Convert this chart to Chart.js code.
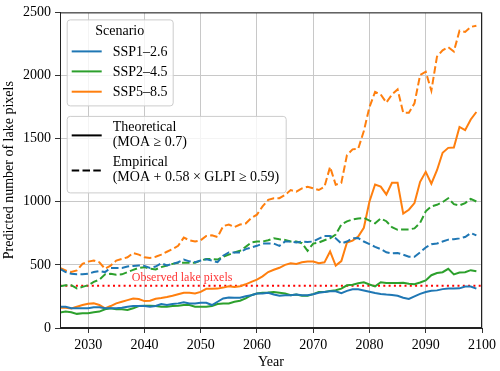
<!DOCTYPE html>
<html>
<head>
<meta charset="utf-8">
<script src="https://cdn.jsdelivr.net/npm/chart.js@4"></script>
<style>
html,body{margin:0;padding:0;background:#fff;}
#c{display:block;}
</style>
</head>
<body>
<canvas id="c" width="500" height="371"></canvas>
<script>
const years = [2025,2026,2027,2028,2029,2030,2031,2032,2033,2034,2035,2036,2037,2038,2039,2040,2041,2042,2043,2044,2045,2046,2047,2048,2049,2050,2051,2052,2053,2054,2055,2056,2057,2058,2059,2060,2061,2062,2063,2064,2065,2066,2067,2068,2069,2070,2071,2072,2073,2074,2075,2076,2077,2078,2079,2080,2081,2082,2083,2084,2085,2086,2087,2088,2089,2090,2091,2092,2093,2094,2095,2096,2097,2098,2099];

const ssp126Theoretical = [169,169,156,156,156,156,164,164,156,156,156,161,169,174,174,174,169,174,190,182,190,195,203,195,195,200,200,182,208,234,242,240,240,252,260,273,273,279,265,255,260,260,265,260,260,268,279,286,291,291,276,294,306,306,297,287,277,270,265,262,255,240,230,250,270,285,295,298,308,312,312,314,328,329,312];
const ssp245Theoretical = [122,130,125,112,117,117,125,130,148,156,148,148,143,156,174,177,177,174,169,169,174,177,182,182,169,169,169,174,190,195,195,208,216,234,260,273,279,281,286,279,273,260,265,255,255,268,286,286,294,299,312,338,343,355,362,345,330,362,356,356,357,358,350,346,360,377,418,436,442,469,425,440,442,458,450];
const ssp585Theoretical = [161,161,155,168,182,192,195,182,155,174,195,208,221,234,229,213,216,232,237,245,255,268,279,279,273,286,310,310,312,320,331,325,331,346,365,383,409,443,461,477,500,513,508,520,526,526,513,520,606,494,530,677,692,725,794,1002,1137,1120,1058,1150,1150,906,937,990,1158,1237,1143,1250,1388,1427,1430,1593,1567,1652,1711];

const ssp126Empirical = [469,443,430,425,425,430,443,451,443,476,476,476,487,492,495,492,476,487,513,495,508,521,542,528,521,534,544,534,521,573,599,599,599,625,638,651,669,669,669,651,685,685,677,685,682,685,708,729,729,711,669,685,710,712,685,664,643,625,600,591,594,581,565,565,599,638,664,669,685,700,703,710,721,752,734];
const ssp245Empirical = [330,339,339,313,326,339,365,383,425,430,422,425,443,460,476,482,469,464,482,495,508,516,516,516,516,534,547,547,542,565,581,599,612,643,677,685,685,695,711,703,698,685,685,672,612,669,677,695,711,740,820,845,860,868,872,851,830,867,846,799,778,781,781,789,833,924,963,976,997,1028,981,971,989,1023,1002];
const ssp585Empirical = [476,456,443,456,508,526,534,520,469,494,534,547,560,594,581,560,555,565,581,604,625,651,716,695,685,695,729,734,721,807,820,799,820,828,872,898,963,1015,1028,1028,1054,1093,1080,1106,1119,1106,1093,1119,1276,1135,1150,1370,1415,1420,1560,1750,1870,1850,1785,1850,1890,1705,1705,1780,2004,2030,1880,2150,2200,2225,2190,2355,2345,2385,2395];

const observedLakePixels = 335;

const scenarioNames = ['SSP1\u20132.6','SSP2\u20134.5','SSP5\u20138.5'];
const scenarioColors = ['#1f77b4','#2ca02c','#ff7f0e'];
const xTicks = [2030,2040,2050,2060,2070,2080,2090,2100];
const yTicks = [0,500,1000,1500,2000,2500];
const xMin = 2025, xMax = 2100, yMin = 0, yMax = 2500;
const observedLabelX = 2046.7;

const SERIF = '"Liberation Serif","Times New Roman",serif';
const DASH = [7.5, 3.3];

function pts(vals){ return years.map((y,i)=>({x:y, y:vals[i]})); }

const theo = [ssp126Theoretical, ssp245Theoretical, ssp585Theoretical];
const emp = [ssp126Empirical, ssp245Empirical, ssp585Empirical];
const datasets = [];
for (let i=0;i<3;i++){
  datasets.push({label: scenarioNames[i]+' theoretical', data: pts(theo[i]), borderColor: scenarioColors[i], borderWidth: 2, pointRadius: 0, tension: 0, fill:false});
  datasets.push({label: scenarioNames[i]+' empirical', data: pts(emp[i]), borderColor: scenarioColors[i], borderWidth: 2, borderDash: DASH, pointRadius: 0, tension: 0, fill:false});
}
datasets.push({label:'Observed lake pixels', data:[{x:xMin,y:observedLakePixels},{x:xMax,y:observedLakePixels}], borderColor:'#ff0000', borderWidth:2, borderDash:[2,3.3], borderCapStyle:'butt', pointRadius:0, fill:false});

function roundBox(ctx,x,y,w,h,r){
  ctx.beginPath();
  ctx.moveTo(x+r,y);
  ctx.lineTo(x+w-r,y); ctx.arcTo(x+w,y,x+w,y+r,r);
  ctx.lineTo(x+w,y+h-r); ctx.arcTo(x+w,y+h,x+w-r,y+h,r);
  ctx.lineTo(x+r,y+h); ctx.arcTo(x,y+h,x,y+h-r,r);
  ctx.lineTo(x,y+r); ctx.arcTo(x,y,x+r,y,r);
  ctx.closePath();
  ctx.fillStyle='rgba(255,255,255,0.8)';
  ctx.fill();
  ctx.strokeStyle='#cccccc';
  ctx.lineWidth=1;
  ctx.stroke();
}

const overlay = {
  id:'overlay',
  afterDatasetsDraw(chart){
    const {ctx, chartArea:a, scales} = chart;
    ctx.save();
    // observed label
    ctx.font = '12px '+SERIF;
    ctx.fillStyle = '#ff3535';
    ctx.textAlign='center'; ctx.textBaseline='middle';
    ctx.fillText('Observed lake pixels', scales.x.getPixelForValue(observedLabelX), scales.y.getPixelForValue(observedLakePixels)-8);
    // frame
    ctx.strokeStyle='#222'; ctx.lineWidth=1;
    ctx.strokeRect(a.left+0.5, a.top+0.5, a.right-a.left-1, a.bottom-a.top-1);
    // legend 1
    const L = a.left+6.7;
    roundBox(ctx, L+0.5, a.top+7.5, 106, 86, 3);
    ctx.font='14px '+SERIF; ctx.fillStyle='#000';
    ctx.textAlign='center';
    ctx.fillText('Scenario', L+53, a.top+18.5);
    ctx.textAlign='left';
    const ys=[39,59,79.3];
    for(let i=0;i<3;i++){
      ctx.beginPath(); ctx.strokeStyle=scenarioColors[i]; ctx.lineWidth=2; ctx.setLineDash([]);
      ctx.moveTo(L+5, a.top+ys[i]); ctx.lineTo(L+35, a.top+ys[i]); ctx.stroke();
      ctx.fillText(scenarioNames[i], L+46, a.top+ys[i]+0.5);
    }
    // legend 2
    roundBox(ctx, L+0.5, a.top+104, 219, 76.5, 3);
    ctx.fillStyle='#000';
    ctx.beginPath(); ctx.strokeStyle='#000'; ctx.lineWidth=2; ctx.setLineDash([]);
    ctx.moveTo(L+5, a.top+123); ctx.lineTo(L+35, a.top+123); ctx.stroke();
    ctx.beginPath(); ctx.setLineDash(DASH);
    ctx.moveTo(L+5, a.top+158); ctx.lineTo(L+35, a.top+158); ctx.stroke();
    ctx.setLineDash([]);
    ctx.fillText('Theoretical', L+46, a.top+114.7);
    ctx.fillText('(MOA \u2265 0.7)', L+46, a.top+130.3);
    ctx.fillText('Empirical', L+46, a.top+150.3);
    ctx.fillText('(MOA + 0.58 \u00d7 GLPI \u2265 0.59)', L+46, a.top+165.3);
    ctx.restore();
  }
};

new Chart(document.getElementById('c'), {
  type:'line',
  data:{datasets},
  options:{
    responsive:false, animation:false, devicePixelRatio:1,
    layout:{padding:{left:0,right:18,top:8,bottom:0}},
    plugins:{legend:{display:false}, tooltip:{enabled:false}},
    scales:{
      x:{type:'linear', min:xMin, max:xMax,
        afterBuildTicks:s=>{s.ticks=xTicks.map(v=>({value:v}));},
        afterFit:s=>{s.height=43;},
        ticks:{font:{family:SERIF,size:14}, color:'#000', padding:4, maxRotation:0, autoSkip:false, callback:v=>String(v)},
        grid:{color:'#c8c8c8', lineWidth:1, tickColor:'#333', tickLength:5},
        border:{display:true,color:'#222',width:1},
        title:{display:true,text:'Year',font:{family:SERIF,size:14},color:'#000',padding:{top:0,bottom:0}}
      },
      y:{type:'linear', min:yMin, max:yMax,
        afterBuildTicks:s=>{s.ticks=yTicks.map(v=>({value:v}));},
        afterFit:s=>{s.width=60;},
        ticks:{font:{family:SERIF,size:14}, color:'#000', padding:4, autoSkip:false, callback:v=>String(v)},
        grid:{color:'#c8c8c8', lineWidth:1, tickColor:'#333', tickLength:5},
        border:{display:true,color:'#222',width:1},
        title:{display:true,text:'Predicted number of lake pixels',font:{family:SERIF,size:14},color:'#000',padding:{top:1,bottom:0}}
      }
    }
  },
  plugins:[overlay]
});
</script>
</body>
</html>
